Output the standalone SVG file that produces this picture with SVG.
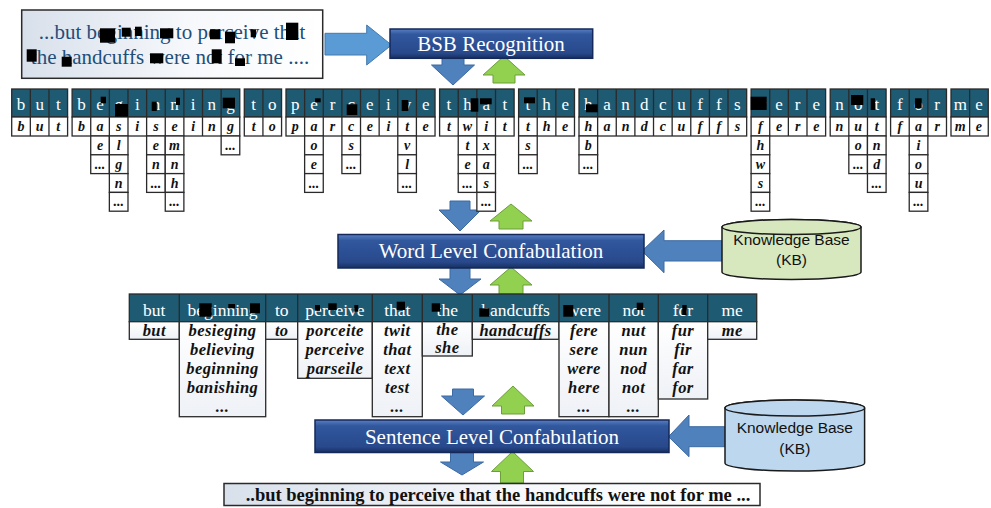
<svg xmlns="http://www.w3.org/2000/svg" width="991" height="508" viewBox="0 0 991 508">
<defs>
<linearGradient id="gBox" x1="0" y1="0" x2="1" y2="0"><stop offset="0" stop-color="#d8e0eb"/><stop offset="0.55" stop-color="#f6f8fb"/><stop offset="1" stop-color="#ffffff"/></linearGradient>
<linearGradient id="gProc" x1="0" y1="0" x2="0" y2="1"><stop offset="0" stop-color="#5a7fc4"/><stop offset="0.18" stop-color="#31579d"/><stop offset="0.82" stop-color="#28498c"/><stop offset="1" stop-color="#173060"/></linearGradient>
<linearGradient id="gCell" x1="0" y1="0" x2="0" y2="1"><stop offset="0" stop-color="#ffffff"/><stop offset="1" stop-color="#eef1f6"/></linearGradient>
</defs>
<style>
.hdr{fill:#1f5a73;stroke:#2a2a2a;stroke-width:1.3}
.cell{fill:#fff;stroke:#2a2a2a;stroke-width:1.3}
.wcell{fill:url(#gCell);stroke:#2a2a2a;stroke-width:1.3}
.dv{fill:none;stroke:#2a2a2a;stroke-width:1.3}
.lh{font-family:"Liberation Serif",serif;font-size:17px;fill:#fff;text-anchor:middle}
.lc{font-family:"Liberation Serif",serif;font-size:14px;font-weight:bold;font-style:italic;fill:#111;text-anchor:middle}
.wh{font-family:"Liberation Serif",serif;font-size:17.5px;fill:#fff;text-anchor:middle}
.wc{font-family:"Liberation Serif",serif;font-size:16.5px;font-weight:bold;font-style:italic;fill:#111;text-anchor:middle;letter-spacing:0.4px}
.blk{fill:#000}
.ab{fill:#4f81bd;stroke:#3c6aa2;stroke-width:1}
.ab2{fill:#5b9bd5;stroke:#4579ad;stroke-width:1}
.ag{fill:#92d050;stroke:#6c9e3a;stroke-width:1}
.proc{fill:url(#gProc);stroke:#14295a;stroke-width:1.5}
.pt{font-family:"Liberation Serif",serif;font-size:21px;fill:#fff;text-anchor:middle}
.tb{fill:url(#gBox);stroke:#2a2a2a;stroke-width:1.5}
.kb{stroke:#1a1a1a;stroke-width:1.5}
.kbt{font-family:"Liberation Sans",sans-serif;font-size:15.5px;fill:#111;text-anchor:middle}
</style>
<rect width="991" height="508" fill="#fff"/>

<g id="connectors">
<path class="ab2" d="M325,33.3H366.7V25L391.5,45L366.7,65V55H325Z"/>
<path class="ab" d="M442,58H464V65H474.5L453,85L431.5,65H442Z"/>
<path class="ag" d="M504,56L525,75H515V83H493V75H483Z"/>
<path class="ab" d="M450,201H470V210H481L460,231L439,210H450Z"/>
<path class="ag" d="M511,204L532,221H523V229H499V221H490Z"/>
<path class="ab" d="M450,268H470V279H481L460,295L439,279H450Z"/>
<path class="ag" d="M511,267L532,285H523V294H499V285H490Z"/>
<path class="ab" d="M452.5,389H473.5V396H484.5L463,415L441.5,396H452.5Z"/>
<path class="ag" d="M513,386L534,406H524.5V414H501.5V406H492Z"/>
<path class="ab" d="M450.5,452.5H473.5V462H483.5L462,475L440.5,462H450.5Z"/>
<path class="ag" d="M512.5,451.5L533.5,471.5H523.5V483H500.5V471.5H491.5Z"/>
<path class="ab" d="M724,240.7H664V230L642,251L664,272.7V261H724Z"/>
<path class="ab" d="M727,426.7H689V415L668.5,436.7L689,456.7V446.7H727Z"/>
</g>

<g id="input-text">
<rect class="tb" x="21.7" y="10" width="301" height="68.3"/>
<text x="172" y="38.5" font-family="Liberation Serif,serif" font-size="21" fill="#1f4e79" text-anchor="middle">...but beginning to perceive that</text>
<text x="170" y="63.5" font-family="Liberation Serif,serif" font-size="21" fill="#1f4e79" text-anchor="middle">the handcuffs were not for me ....</text>
</g>

<g id="bsb">
<rect class="proc" x="390" y="29" width="202.7" height="29.3"/>
<text class="pt" x="491" y="50.5">BSB Recognition</text>
</g>

<g id="letters-but" transform="translate(11.7,89)">
<rect class="hdr" width="55.89" height="28"/><rect class="cell" y="28" width="55.89" height="19"/>
<path class="dv" d="M18.63,0V47M37.26,0V47"/>
<text class="lh" x="9.32 27.95 46.58" y="21">but</text>
<text class="lc" x="9.32 27.95 46.58" y="42">but</text>
</g>

<g id="letters-beginning" transform="translate(72.1,89)">
<rect class="hdr" width="167.67" height="28"/><rect class="cell" y="28" width="167.67" height="19"/>
<path class="dv" d="M18.63,0V47M37.26,0V47M55.89,0V47M74.52,0V47M93.15,0V47M111.78,0V47M130.41,0V47M149.04,0V47"/>
<text class="lh" x="9.32 27.95 46.58 65.2 83.84 102.47 121.1 139.73 158.36" y="21">beginning</text>
<text class="lc" x="9.32 27.95 46.58 65.2 83.84 102.47 121.1 139.73 158.36" y="42">basiseing</text>
<rect class="cell" x="18.63" y="47" width="18.63" height="18.8"/><rect class="cell" x="18.63" y="65.8" width="18.63" height="18.8"/>
<text class="lc" x="27.95" y="61">e</text><text class="lc" x="27.95" y="79.8">...</text>
<rect class="cell" x="37.26" y="47" width="18.63" height="18.8"/><rect class="cell" x="37.26" y="65.8" width="18.63" height="18.8"/><rect class="cell" x="37.26" y="84.6" width="18.63" height="18.8"/><rect class="cell" x="37.26" y="103.4" width="18.63" height="18.8"/>
<text class="lc" x="46.58" y="61">l</text><text class="lc" x="46.58" y="79.8">g</text><text class="lc" x="46.58" y="98.6">n</text><text class="lc" x="46.58" y="117.4">...</text>
<rect class="cell" x="74.52" y="47" width="18.63" height="18.8"/><rect class="cell" x="74.52" y="65.8" width="18.63" height="18.8"/><rect class="cell" x="74.52" y="84.6" width="18.63" height="18.8"/>
<text class="lc" x="83.84" y="61">e</text><text class="lc" x="83.84" y="79.8">n</text><text class="lc" x="83.84" y="98.6">...</text>
<rect class="cell" x="93.15" y="47" width="18.63" height="18.8"/><rect class="cell" x="93.15" y="65.8" width="18.63" height="18.8"/><rect class="cell" x="93.15" y="84.6" width="18.63" height="18.8"/><rect class="cell" x="93.15" y="103.4" width="18.63" height="18.8"/>
<text class="lc" x="102.47" y="61">m</text><text class="lc" x="102.47" y="79.8">n</text><text class="lc" x="102.47" y="98.6">h</text><text class="lc" x="102.47" y="117.4">...</text>
<rect class="cell" x="149.04" y="47" width="18.63" height="18.8"/>
<text class="lc" x="158.36" y="61">...</text>
</g>

<g id="letters-to" transform="translate(244.3,89)">
<rect class="hdr" width="37.26" height="28"/><rect class="cell" y="28" width="37.26" height="19"/>
<path class="dv" d="M18.63,0V47"/>
<text class="lh" x="9.32 27.95" y="21">to</text>
<text class="lc" x="9.32 27.95" y="42">to</text>
</g>

<g id="letters-perceive" transform="translate(286,89)">
<rect class="hdr" width="149.04" height="28"/><rect class="cell" y="28" width="149.04" height="19"/>
<path class="dv" d="M18.63,0V47M37.26,0V47M55.89,0V47M74.52,0V47M93.15,0V47M111.78,0V47M130.41,0V47"/>
<text class="lh" x="9.32 27.95 46.58 65.2 83.84 102.47 121.1 139.73" y="21">perceive</text>
<text class="lc" x="9.32 27.95 46.58 65.2 83.84 102.47 121.1 139.73" y="42">parceite</text>
<rect class="cell" x="18.63" y="47" width="18.63" height="18.8"/><rect class="cell" x="18.63" y="65.8" width="18.63" height="18.8"/><rect class="cell" x="18.63" y="84.6" width="18.63" height="18.8"/>
<text class="lc" x="27.95" y="61">o</text><text class="lc" x="27.95" y="79.8">e</text><text class="lc" x="27.95" y="98.6">...</text>
<rect class="cell" x="55.89" y="47" width="18.63" height="18.8"/><rect class="cell" x="55.89" y="65.8" width="18.63" height="18.8"/>
<text class="lc" x="65.2" y="61">s</text><text class="lc" x="65.2" y="79.8">...</text>
<rect class="cell" x="111.78" y="47" width="18.63" height="18.8"/><rect class="cell" x="111.78" y="65.8" width="18.63" height="18.8"/><rect class="cell" x="111.78" y="84.6" width="18.63" height="18.8"/>
<text class="lc" x="121.1" y="61">v</text><text class="lc" x="121.1" y="79.8">l</text><text class="lc" x="121.1" y="98.6">...</text>
</g>

<g id="letters-that" transform="translate(439.6,89)">
<rect class="hdr" width="74.52" height="28"/><rect class="cell" y="28" width="74.52" height="19"/>
<path class="dv" d="M18.63,0V47M37.26,0V47M55.89,0V47"/>
<text class="lh" x="9.32 27.95 46.58 65.2" y="21">that</text>
<text class="lc" x="9.32 27.95 46.58 65.2" y="42">twit</text>
<rect class="cell" x="18.63" y="47" width="18.63" height="18.8"/><rect class="cell" x="18.63" y="65.8" width="18.63" height="18.8"/><rect class="cell" x="18.63" y="84.6" width="18.63" height="18.8"/>
<text class="lc" x="27.95" y="61">t</text><text class="lc" x="27.95" y="79.8">e</text><text class="lc" x="27.95" y="98.6">...</text>
<rect class="cell" x="37.26" y="47" width="18.63" height="18.8"/><rect class="cell" x="37.26" y="65.8" width="18.63" height="18.8"/><rect class="cell" x="37.26" y="84.6" width="18.63" height="18.8"/><rect class="cell" x="37.26" y="103.4" width="18.63" height="18.8"/>
<text class="lc" x="46.58" y="61">x</text><text class="lc" x="46.58" y="79.8">a</text><text class="lc" x="46.58" y="98.6">s</text><text class="lc" x="46.58" y="117.4">...</text>
</g>

<g id="letters-the" transform="translate(518.6,89)">
<rect class="hdr" width="55.89" height="28"/><rect class="cell" y="28" width="55.89" height="19"/>
<path class="dv" d="M18.63,0V47M37.26,0V47"/>
<text class="lh" x="9.32 27.95 46.58" y="21">the</text>
<text class="lc" x="9.32 27.95 46.58" y="42">the</text>
<rect class="cell" x="0" y="47" width="18.63" height="18.8"/><rect class="cell" x="0" y="65.8" width="18.63" height="18.8"/>
<text class="lc" x="9.32" y="61">s</text><text class="lc" x="9.32" y="79.8">...</text>
</g>

<g id="letters-handcuffs" transform="translate(579,89)">
<rect class="hdr" width="167.67" height="28"/><rect class="cell" y="28" width="167.67" height="19"/>
<path class="dv" d="M18.63,0V47M37.26,0V47M55.89,0V47M74.52,0V47M93.15,0V47M111.78,0V47M130.41,0V47M149.04,0V47"/>
<text class="lh" x="9.32 27.95 46.58 65.2 83.84 102.47 121.1 139.73 158.36" y="21">handcuffs</text>
<text class="lc" x="9.32 27.95 46.58 65.2 83.84 102.47 121.1 139.73 158.36" y="42">handcuffs</text>
<rect class="cell" x="0" y="47" width="18.63" height="18.8"/><rect class="cell" x="0" y="65.8" width="18.63" height="18.8"/>
<text class="lc" x="9.32" y="61">b</text><text class="lc" x="9.32" y="79.8">...</text>
</g>

<g id="letters-were" transform="translate(751.1,89)">
<rect class="hdr" width="74.52" height="28"/><rect class="cell" y="28" width="74.52" height="19"/>
<path class="dv" d="M18.63,0V47M37.26,0V47M55.89,0V47"/>
<text class="lh" x="9.32 27.95 46.58 65.2" y="21">were</text>
<text class="lc" x="9.32 27.95 46.58 65.2" y="42">fere</text>
<rect class="cell" x="0" y="47" width="18.63" height="18.8"/><rect class="cell" x="0" y="65.8" width="18.63" height="18.8"/><rect class="cell" x="0" y="84.6" width="18.63" height="18.8"/><rect class="cell" x="0" y="103.4" width="18.63" height="18.8"/>
<text class="lc" x="9.32" y="61">h</text><text class="lc" x="9.32" y="79.8">w</text><text class="lc" x="9.32" y="98.6">s</text><text class="lc" x="9.32" y="117.4">...</text>
</g>

<g id="letters-not" transform="translate(830.2,89)">
<rect class="hdr" width="55.89" height="28"/><rect class="cell" y="28" width="55.89" height="19"/>
<path class="dv" d="M18.63,0V47M37.26,0V47"/>
<text class="lh" x="9.32 27.95 46.58" y="21">not</text>
<text class="lc" x="9.32 27.95 46.58" y="42">nut</text>
<rect class="cell" x="18.63" y="47" width="18.63" height="18.8"/><rect class="cell" x="18.63" y="65.8" width="18.63" height="18.8"/>
<text class="lc" x="27.95" y="61">o</text><text class="lc" x="27.95" y="79.8">...</text>
<rect class="cell" x="37.26" y="47" width="18.63" height="18.8"/><rect class="cell" x="37.26" y="65.8" width="18.63" height="18.8"/><rect class="cell" x="37.26" y="84.6" width="18.63" height="18.8"/>
<text class="lc" x="46.58" y="61">n</text><text class="lc" x="46.58" y="79.8">d</text><text class="lc" x="46.58" y="98.6">...</text>
</g>

<g id="letters-for" transform="translate(890.6,89)">
<rect class="hdr" width="55.89" height="28"/><rect class="cell" y="28" width="55.89" height="19"/>
<path class="dv" d="M18.63,0V47M37.26,0V47"/>
<text class="lh" x="9.32 27.95 46.58" y="21">for</text>
<text class="lc" x="9.32 27.95 46.58" y="42">far</text>
<rect class="cell" x="18.63" y="47" width="18.63" height="18.8"/><rect class="cell" x="18.63" y="65.8" width="18.63" height="18.8"/><rect class="cell" x="18.63" y="84.6" width="18.63" height="18.8"/><rect class="cell" x="18.63" y="103.4" width="18.63" height="18.8"/>
<text class="lc" x="27.95" y="61">i</text><text class="lc" x="27.95" y="79.8">o</text><text class="lc" x="27.95" y="98.6">u</text><text class="lc" x="27.95" y="117.4">...</text>
</g>

<g id="letters-me" transform="translate(951,89)">
<rect class="hdr" width="37.26" height="28"/><rect class="cell" y="28" width="37.26" height="19"/>
<path class="dv" d="M18.63,0V47"/>
<text class="lh" x="9.32 27.95" y="21">me</text>
<text class="lc" x="9.32 27.95" y="42">me</text>
</g>

<g id="word-confab">
<rect class="proc" x="338" y="234.5" width="306" height="33.5"/>
<text class="pt" x="491" y="258">Word Level Confabulation</text>
</g>

<g id="kb-word">
<path class="kb" fill="#d7e8bf" d="M722,227A69.5,7.5 0 0 1 861,227V272A69.5,7.5 0 0 1 722,272Z"/>
<ellipse class="kb" fill="#d7e8bf" cx="791.5" cy="227" rx="69.5" ry="7.5"/>
<text class="kbt" x="791.5" y="245">Knowledge Base</text>
<text class="kbt" x="791.5" y="265">(KB)</text>
</g>

<g id="words">
<rect class="hdr" x="129.3" y="294" width="627.4" height="27.7"/>
<path class="dv" d="M179.3,294V321.7M265.7,294V321.7M297.7,294V321.7M372.3,294V321.7M422.3,294V321.7M472.3,294V321.7M559,294V321.7M609,294V321.7M658.3,294V321.7M707.7,294V321.7"/>
<text class="wh" x="154.3" y="315.5">but</text>
<text class="wh" x="222.5" y="315.5">beginning</text>
<text class="wh" x="281.7" y="315.5">to</text>
<text class="wh" x="335" y="315.5">perceive</text>
<text class="wh" x="397.3" y="315.5">that</text>
<text class="wh" x="447.3" y="315.5">the</text>
<text class="wh" x="515.6" y="315.5">handcuffs</text>
<text class="wh" x="584" y="315.5">were</text>
<text class="wh" x="633.6" y="315.5">not</text>
<text class="wh" x="683" y="315.5">for</text>
<text class="wh" x="732.2" y="315.5">me</text>
<rect class="wcell" x="129.3" y="321.7" width="50" height="17.6"/>
<rect class="wcell" x="179.3" y="321.7" width="86.4" height="95"/>
<rect class="wcell" x="265.7" y="321.7" width="32" height="17.6"/>
<rect class="wcell" x="297.7" y="321.7" width="74.6" height="56.6"/>
<rect class="wcell" x="372.3" y="321.7" width="50" height="95"/>
<rect class="wcell" x="422.3" y="321.7" width="50" height="34.3"/>
<rect class="wcell" x="472.3" y="321.7" width="86.7" height="17.6"/>
<rect class="wcell" x="559" y="321.7" width="50" height="95"/>
<rect class="wcell" x="609" y="321.7" width="49.3" height="95"/>
<rect class="wcell" x="658.3" y="321.7" width="49.4" height="77.3"/>
<rect class="wcell" x="707.7" y="321.7" width="49" height="17.6"/>
<text class="wc" x="154.3" y="335.5">but</text>
<text class="wc" x="222.5" y="335.5">besieging</text>
<text class="wc" x="222.5" y="354.5">believing</text>
<text class="wc" x="222.5" y="373.5">beginning</text>
<text class="wc" x="222.5" y="392.5">banishing</text>
<text class="wc" x="222.5" y="411.5">...</text>
<text class="wc" x="281.7" y="335.5">to</text>
<text class="wc" x="335" y="335.5">porceite</text>
<text class="wc" x="335" y="354.5">perceive</text>
<text class="wc" x="335" y="373.5">parseile</text>
<text class="wc" x="397.3" y="335.5">twit</text>
<text class="wc" x="397.3" y="354.5">that</text>
<text class="wc" x="397.3" y="373.5">text</text>
<text class="wc" x="397.3" y="392.5">test</text>
<text class="wc" x="397.3" y="411.5">...</text>
<text class="wc" x="447.3" y="334.5">the</text>
<text class="wc" x="447.3" y="352.5">she</text>
<text class="wc" x="515.6" y="335.5">handcuffs</text>
<text class="wc" x="584" y="335.5">fere</text>
<text class="wc" x="584" y="354.5">sere</text>
<text class="wc" x="584" y="373.5">were</text>
<text class="wc" x="584" y="392.5">here</text>
<text class="wc" x="584" y="411.5">...</text>
<text class="wc" x="633.6" y="335.5">nut</text>
<text class="wc" x="633.6" y="354.5">nun</text>
<text class="wc" x="633.6" y="373.5">nod</text>
<text class="wc" x="633.6" y="392.5">not</text>
<text class="wc" x="633.6" y="411.5">...</text>
<text class="wc" x="683" y="335.5">fur</text>
<text class="wc" x="683" y="354.5">fir</text>
<text class="wc" x="683" y="373.5">far</text>
<text class="wc" x="683" y="392.5">for</text>
<text class="wc" x="732.2" y="335.5">me</text>
</g>

<g id="sentence-confab">
<rect class="proc" x="315" y="420" width="354" height="32.5"/>
<text class="pt" x="492" y="443.5">Sentence Level Confabulation</text>
</g>

<g id="kb-sentence">
<path class="kb" fill="#bdd7ee" d="M725,408A69.8,8 0 0 1 864.6,408V463A69.8,8 0 0 1 725,463Z"/>
<ellipse class="kb" fill="#bdd7ee" cx="794.8" cy="408" rx="69.8" ry="8"/>
<text class="kbt" x="794.8" y="433">Knowledge Base</text>
<text class="kbt" x="794.8" y="454">(KB)</text>
</g>

<g id="output-text">
<rect class="tb" x="224" y="483.5" width="536" height="22"/>
<text x="498" y="501" font-family="Liberation Serif,serif" font-size="18.5" font-weight="bold" fill="#111" text-anchor="middle">..but beginning to perceive that the handcuffs were not for me ...</text>
</g>

<g id="occlusions">
<rect class="blk" x="100" y="28.3" width="15" height="14.4"/><rect class="blk" x="121.7" y="27.7" width="9" height="9"/><rect class="blk" x="135" y="26.7" width="6.7" height="9.3"/><rect class="blk" x="160" y="28.3" width="13.3" height="10"/><rect class="blk" x="210" y="29.3" width="10" height="10"/><rect class="blk" x="225" y="31.7" width="10" height="11.6"/><rect class="blk" x="250.7" y="29.3" width="5.3" height="8"/><rect class="blk" x="286" y="22.7" width="12.3" height="17.3"/><rect class="blk" x="26.7" y="49.3" width="10" height="12.4"/><rect class="blk" x="61.7" y="56.7" width="10" height="10"/><rect class="blk" x="150" y="53.3" width="13.3" height="10"/><rect class="blk" x="211.7" y="49.3" width="10" height="14"/><rect class="blk" x="235" y="58.3" width="10" height="7.7"/>
<rect class="blk" x="100.7" y="96.7" width="5.3" height="6.6"/><rect class="blk" x="115" y="104" width="13" height="12.7"/><rect class="blk" x="151.7" y="101.7" width="5" height="9.3"/><rect class="blk" x="176" y="97.7" width="4" height="7.3"/><rect class="blk" x="222.7" y="97.7" width="12.3" height="10.6"/><rect class="blk" x="315" y="98.3" width="5.7" height="4"/><rect class="blk" x="346.7" y="104.3" width="10.6" height="10.7"/><rect class="blk" x="401.7" y="100" width="6.6" height="11"/><rect class="blk" x="470.7" y="98.3" width="7.6" height="13.4"/><rect class="blk" x="480" y="98.3" width="11.7" height="6"/><rect class="blk" x="524" y="97.3" width="11" height="6"/><rect class="blk" x="586" y="104.3" width="11.7" height="8"/><rect class="blk" x="750.7" y="96.7" width="16" height="13.3"/><rect class="blk" x="851" y="95" width="12.3" height="10"/><rect class="blk" x="870.7" y="98.3" width="4.3" height="11.7"/><rect class="blk" x="915" y="98.3" width="6.7" height="10"/>
<rect class="blk" x="199.3" y="303.3" width="12.4" height="13.4"/><rect class="blk" x="228.3" y="304" width="6.7" height="4.3"/><rect class="blk" x="250" y="303.3" width="10" height="10"/><rect class="blk" x="315" y="305" width="5" height="5.7"/><rect class="blk" x="328.3" y="303.3" width="8.4" height="6.7"/><rect class="blk" x="354.3" y="305" width="4" height="6.7"/><rect class="blk" x="396.7" y="301.7" width="8.3" height="8.3"/><rect class="blk" x="431.7" y="303.3" width="8.3" height="8.4"/><rect class="blk" x="479.3" y="308.3" width="10" height="8.4"/><rect class="blk" x="563.3" y="305" width="10" height="11.7"/><rect class="blk" x="636.7" y="302.7" width="6.6" height="7.3"/><rect class="blk" x="682.3" y="305" width="4.4" height="10"/>
</g>
</svg>
